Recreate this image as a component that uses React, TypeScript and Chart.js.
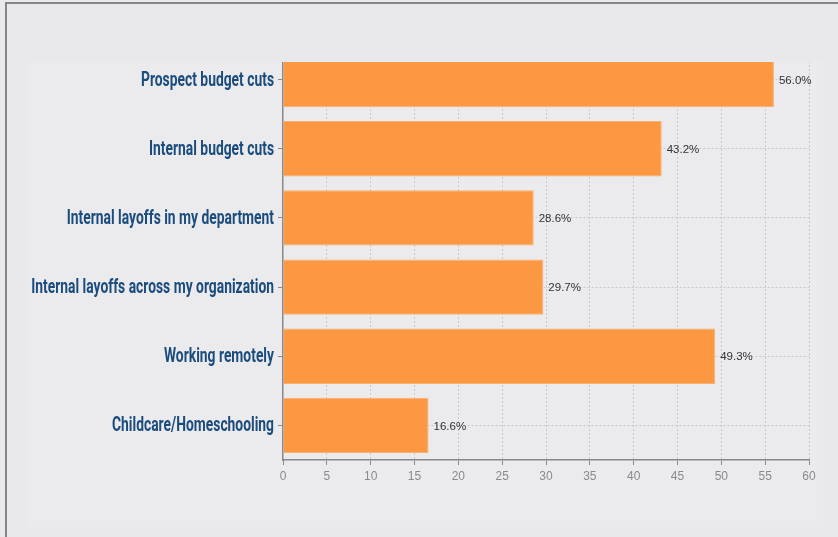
import React, { useEffect, useRef } from "react";
import { Chart, registerables } from "chart.js";

Chart.register(...registerables);

const categories = [
  "Prospect budget cuts",
  "Internal budget cuts",
  "Internal layoffs in my department",
  "Internal layoffs across my organization",
  "Working remotely",
  "Childcare/Homeschooling",
];
const values = [56.0, 43.2, 28.6, 29.7, 49.3, 16.6];
const xMin = 0;
const xMax = 60;
const xStep = 5;

const BG = "#e9e8eb";
const INNER_BG = "#ebeaed";
const BAR = "#fc9842";
const LABEL_COLOR = "#1b4c7e";
const LABEL_FONT = 'bold 21px Roboto, "DejaVu Sans", sans-serif';

const decorPlugin = {
  id: "decor",
  beforeDraw(chart: any) {
    const { ctx, width, height, chartArea } = chart;
    ctx.save();
    ctx.fillStyle = BG;
    ctx.fillRect(0, 0, width, height);
    ctx.fillStyle = INNER_BG;
    ctx.fillRect(28, chartArea.top + 17, width - 43, height - chartArea.top - 27);
    ctx.restore();
  },
  afterDatasetsDraw(chart: any) {
    const { ctx, chartArea } = chart;
    const yScale = chart.scales.y;
    ctx.save();
    // top strip where the first band is cut off
    ctx.fillStyle = BG;
    ctx.fillRect(chartArea.left - 2, chartArea.top - 2, chartArea.right - chartArea.left + 6, 19);
    // value labels
    const meta = chart.getDatasetMeta(0);
    ctx.fillStyle = "#333";
    ctx.font = '11.5px "Liberation Sans", Arial, sans-serif';
    ctx.textAlign = "left";
    ctx.textBaseline = "middle";
    meta.data.forEach((bar: any, i: number) => {
      ctx.fillText(values[i].toFixed(1) + "%", bar.x + 5, bar.y + 1);
    });
    // condensed category labels
    ctx.font = LABEL_FONT;
    ctx.fillStyle = LABEL_COLOR;
    ctx.textAlign = "right";
    ctx.textBaseline = "alphabetic";
    const factor = 133 / ctx.measureText(categories[0]).width;
    const xRight = chartArea.left - 9;
    categories.forEach((c, i) => {
      const y = yScale.getPixelForValue(i);
      ctx.save();
      ctx.translate(xRight, y + 6);
      ctx.scale(factor, 1);
      ctx.fillText(c, 0, 0);
      ctx.restore();
    });
    ctx.restore();
  },
};

export default function App() {
  const ref = useRef<HTMLCanvasElement>(null);
  useEffect(() => {
    document.body.style.margin = "0";
    const chart = new Chart(ref.current!, {
      type: "bar",
      data: {
        labels: categories,
        datasets: [
          {
            data: values,
            backgroundColor: BAR,
            borderColor: "#fcae6e",
            borderWidth: 1,
            categoryPercentage: 1,
            barPercentage: 0.8,
          },
        ],
      },
      options: {
        indexAxis: "y",
        animation: false,
        responsive: false,
        events: [],
        layout: { padding: { top: 45, right: 29, left: 0, bottom: 0 } },
        plugins: { legend: { display: false }, tooltip: { enabled: false } },
        scales: {
          x: {
            type: "linear",
            min: xMin,
            max: xMax,
            ticks: {
              stepSize: xStep,
              color: "#8a8a8a",
              font: { family: '"Liberation Sans", Arial, sans-serif', size: 12 },
              padding: 4,
              maxRotation: 0,
            },
            grid: {
              color: (c: any) => (c.tick && c.tick.value === 0 ? "rgba(0,0,0,0)" : "#c9c8cc"),
              tickColor: "#888",
              tickLength: 5,
              tickBorderDash: [],
            },
            border: { display: true, color: "#888", width: 1.5, dash: [2, 2] },
            afterFit: (s: any) => {
              s.height = 77;
            },
          },
          y: {
            type: "category",
            ticks: { display: false },
            grid: {
              color: "#c9c8cc",
              tickColor: "#888",
              tickLength: 5,
              tickBorderDash: [],
              offset: false,
            },
            border: { display: true, color: "#888", width: 1.5, dash: [2, 2] },
            afterFit: (s: any) => {
              s.width = 283;
            },
          },
        },
      } as any,
      plugins: [decorPlugin],
    });
    return () => chart.destroy();
  }, []);
  return (
    <div style={{ position: "relative", width: 838, height: 537, overflow: "hidden", background: BG }}>
      <canvas ref={ref} width={838} height={537} style={{ position: "absolute", left: 0, top: 0 }} />
      <div
        style={{
          position: "absolute",
          left: 5,
          top: 2,
          width: 900,
          height: 600,
          borderLeft: "2px solid #858585",
          borderTop: "2px solid #858585",
          pointerEvents: "none",
        }}
      />
    </div>
  );
}
